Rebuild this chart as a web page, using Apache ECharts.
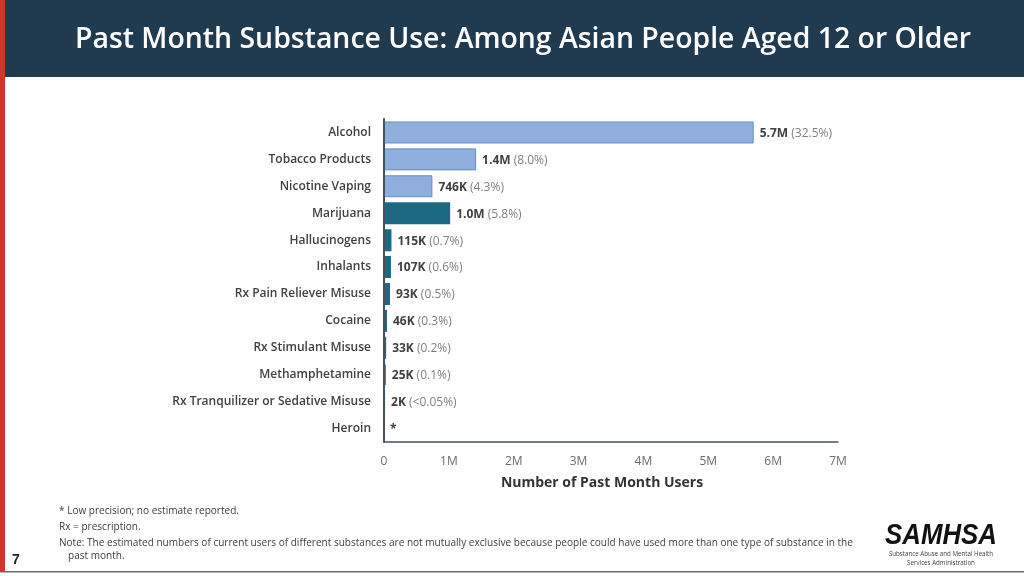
<!DOCTYPE html>
<html><head><meta charset="utf-8">
<style>html,body{margin:0;padding:0;background:#fff}#c{width:1024px;height:576px}</style>
<script src="https://cdn.jsdelivr.net/npm/echarts@6/dist/echarts.min.js"></script>
</head><body><div id="c"></div>
<script>
const categories = ['Alcohol','Tobacco Products','Nicotine Vaping','Marijuana','Hallucinogens','Inhalants','Rx Pain Reliever Misuse','Cocaine','Rx Stimulant Misuse','Methamphetamine','Rx Tranquilizer or Sedative Misuse','Heroin'];
const users = [5700000,1420000,746000,1020000,115000,107000,93000,46000,33000,25000,2000,0];
const valueLabels = ['5.7M','1.4M','746K','1.0M','115K','107K','93K','46K','33K','25K','2K','*'];
const pctLabels = ['(32.5%)','(8.0%)','(4.3%)','(5.8%)','(0.7%)','(0.6%)','(0.5%)','(0.3%)','(0.2%)','(0.1%)','(<0.05%)',''];
const groups = ['a','a','a','b','b','b','b','b','b','b','b','b'];
const xTicks = {0:'0',1000000:'1M',2000000:'2M',3000000:'3M',4000000:'4M',5000000:'5M',6000000:'6M',7000000:'7M'};
const groupFill = {a:'#8EAEDE',b:'#1D6883'};
const groupEdge = {a:'#6A8DBE',b:'#1D6883'};
const font = '"Open Sans"';
const notes = [
 ['* Low precision; no estimate reported.',59,511],
 ['Rx = prescription.',59,527],
 ['Note: The estimated numbers of current users of different substances are not mutually exclusive because people could have used more than one type of substance in the',59,543],
 ['past month.',68,556]
];
const chart = echarts.init(document.getElementById('c'),null,{renderer:'canvas'});
chart.setOption({
 animation:false,
 backgroundColor:'#fff',
 textStyle:{fontFamily:font},
 grid:{left:384,top:119,width:454,height:323,containLabel:false},
 xAxis:{type:'value',min:0,max:7000000,interval:1000000,
  splitLine:{show:false},
  axisLine:{show:true,onZero:false,lineStyle:{color:'#44525c',width:1.5}},axisTick:{show:false},
  axisLabel:{color:'#6a6a6a',fontSize:12,margin:14,fontFamily:font,formatter:v=>xTicks[v]},
  name:'Number of Past Month Users',nameLocation:'middle',nameGap:34,
  nameTextStyle:{color:'#333',fontSize:14,fontWeight:'bold',fontFamily:font,padding:[0,18,0,0]}},
 yAxis:{type:'category',inverse:true,data:categories,z:5,
  axisLine:{show:true,lineStyle:{color:'#44525c',width:2}},
  axisTick:{show:false},
  axisLabel:{color:'#404040',fontSize:12,fontWeight:600,margin:13,fontFamily:font,padding:[2,0,0,0]}},
 series:[{type:'bar',barWidth:22,
  data:users.map((v,i)=>({value:v,itemStyle:{color:groupFill[groups[i]],borderColor:groupEdge[groups[i]],borderWidth:v===0?0:(groups[i]==='b'?2:1)}})),
  label:{show:true,position:'right',distance:6,
   formatter:p=>`{v|${valueLabels[p.dataIndex]}}`+(pctLabels[p.dataIndex]?` {p|${pctLabels[p.dataIndex]}}`:''),
   rich:{v:{fontSize:12,fontWeight:700,color:'#404040',fontFamily:font,padding:[2,0,0,0]},
         p:{fontSize:12,color:'#7f7f7f',fontFamily:font,padding:[2,0,0,0]}}}}],
 graphic:[
  {type:'rect',shape:{x:0,y:0,width:1024,height:77},style:{fill:'#203A50'},z:10},
  {type:'rect',shape:{x:0,y:0,width:5,height:572},style:{fill:'#D0342F'},z:11},
  {type:'rect',shape:{x:0,y:571,width:1024,height:1.5},style:{fill:'#6b6b6b'},z:11},
  {type:'text',x:75,y:40,z:12,style:{text:'Past Month Substance Use: Among Asian People Aged 12 or Older',fill:'#fff',font:'600 28.4px "Open Sans"',textVerticalAlign:'middle'}},
  ...notes.map(n=>({type:'text',x:n[1],y:n[2],z:12,style:{text:n[0],fill:'#404040',font:'10.05px "Open Sans"',textVerticalAlign:'middle'}})),
  {type:'text',x:12,y:560,z:12,style:{text:'7',fill:'#222',font:'bold 14px "Liberation Sans"',textVerticalAlign:'middle'}},
  {type:'text',x:941,y:536,scaleX:0.86,z:12,style:{text:'SAMHSA',fill:'#111',font:'italic 900 30px "Liberation Sans"',textAlign:'center',textVerticalAlign:'middle'}},
  {type:'text',x:941,y:554,z:12,style:{text:'Substance Abuse and Mental Health',fill:'#444',font:'6.2px "Open Sans"',textAlign:'center',textVerticalAlign:'middle'}},
  {type:'text',x:941,y:563,z:12,style:{text:'Services Administration',fill:'#444',font:'6.2px "Open Sans"',textAlign:'center',textVerticalAlign:'middle'}}
 ]
});
</script></body></html>
